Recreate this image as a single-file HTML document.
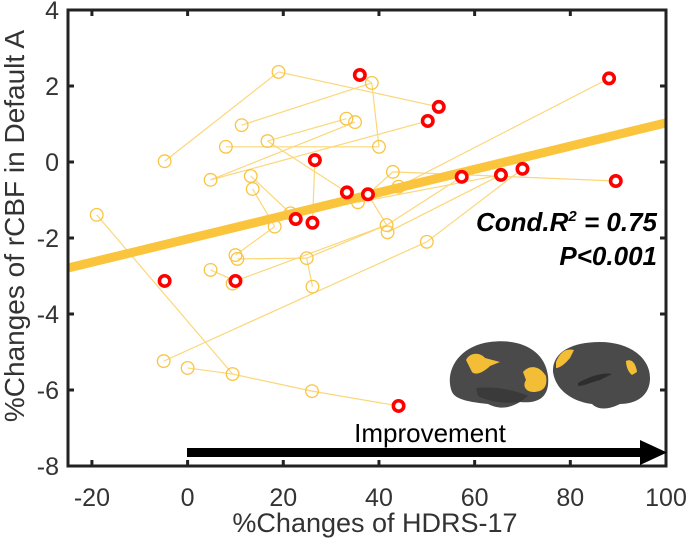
<!DOCTYPE html>
<html><head><meta charset="utf-8"><style>
body{margin:0;background:#fff;}
svg{display:block;font-family:"Liberation Sans",Arial,sans-serif;}
</style></head><body>
<svg id="chart" width="689" height="546" viewBox="0 0 689 546" xmlns="http://www.w3.org/2000/svg">
<g id="lines"></g>
<g id="fit"></g>
<g id="pts"></g>
<g id="axes"></g>
<text x="657" y="231" text-anchor="end" font-size="26" font-weight="bold" font-style="italic">Cond.R<tspan font-size="15" dy="-10">2</tspan><tspan dy="10"> = 0.75</tspan></text>
<text x="657" y="265" text-anchor="end" font-size="26" font-weight="bold" font-style="italic">P&lt;0.001</text>
<g>
<path d="M452,392 C444,372 458,346 490,342 C520,338 545,350 548,376 C550,396 540,404 520,402 C510,408 500,410 488,404 C470,402 456,400 452,392Z" fill="#4a4a4a"/>
<path d="M466,360 C470,352 480,352 485,358 L500,362 L490,366 C484,372 476,376 472,372Z" fill="#f3bd35"/>
<path d="M523,372 C530,364 540,366 546,376 C548,388 542,392 533,392 C526,392 522,386 526,380Z" fill="#f3bd35"/>
<path d="M476,388 C494,386 515,390 528,396 L520,402 C505,404 490,402 478,396Z" fill="#3a3a3a"/>
<path d="M553,372 C552,352 572,342 600,342 C630,342 650,358 650,378 C650,396 636,404 620,404 C608,410 598,410 592,404 C575,402 556,392 553,372Z" fill="#4a4a4a"/>
<path d="M556,362 C560,352 566,348 574,350 L570,358 C565,364 560,368 556,368Z" fill="#f3bd35"/>
<path d="M626,361 C632,358 636,364 637,372 L632,375 C628,372 626,366 626,361Z" fill="#f3bd35"/>
<path d="M578,383 C590,376 604,372 612,374 L600,380 C592,382 584,386 578,386Z" fill="#2e2e2e"/>
</g>
<text x="430" y="442" text-anchor="middle" font-size="26">Improvement</text>
<g>
<rect x="187" y="448" width="455" height="9" fill="#000"/>
<polygon points="640,440 667,452.5 640,465" fill="#000"/>
</g>
<text x="375" y="532" text-anchor="middle" font-size="27" fill="#333">%Changes of HDRS-17</text>
<text transform="translate(24,226) rotate(-90)" text-anchor="middle" font-size="28" fill="#333">%Changes of rCBF in Default A</text>
</svg>
<script>
const xTicks=[-20,0,20,40,60,80,100];
const yTicks=[4,2,0,-2,-4,-6,-8];
const baseX=[19,38.5,11.3,33.2,35,8,16.7,40,-4.8,4.8,13.2,13.6,42.9,44.1,35.6,-19,21.5,18.2,41.6,41.8,50,10,10.4,24.9,4.8,9.4,26.1,-5,0,9.4,26];
const baseY=[2.37,2.08,0.97,1.14,1.05,0.4,0.55,0.4,0.02,-0.47,-0.37,-0.71,-0.26,-0.65,-1.06,-1.39,-1.35,-1.7,-1.66,-1.85,-2.1,-2.45,-2.55,-2.53,-2.84,-3.2,-3.28,-5.24,-5.42,-5.58,-6.03];
const postX=[36,52.5,50.2,26.6,33.3,37.7,22.6,26.1,-4.8,10,44.1,88.1,57.3,65.5,70,89.5];
const postY=[2.29,1.45,1.08,0.05,-0.8,-0.85,-1.5,-1.6,-3.13,-3.13,-6.42,2.2,-0.39,-0.34,-0.18,-0.5];
const segFrom=['b0','b0','b2','b1','b5','b6','b9','b9','b6','b10','b11','b12','p5','p5','b13','p3','b16','b15','b28','b29','b30','b27','b20','b24','b22','b23','b26','p9','b19','b18','b17','p0','b14'];
const segTo=['b8','p1','b1','b7','b7','b3','b4','p2','p4','b16','b17','p15','b12','b18','p11','p7','p6','b29','b29','b30','p10','b20','p14','p9','b23','b18','b23','b18','p13','p12','b21','b1','p13'];
const fitX=[-25,100];
const fitY=[-2.79,1.03];
const NS='http://www.w3.org/2000/svg';
const X0=68,X1=666,Y0=10,Y1=466;
function sx(v){return X0+(v+25)/125*(X1-X0);}
function sy(v){return Y0+(4-v)/12*(Y1-Y0);}
function mk(t,a,p){const e=document.createElementNS(NS,t);for(const k in a)e.setAttribute(k,a[k]);p.appendChild(e);return e;}
function pt(id){const i=+id.slice(1);return id[0]==='b'?[baseX[i],baseY[i]]:[postX[i],postY[i]];}
const gl=document.getElementById('lines');
for(let i=0;i<segFrom.length;i++){const a=pt(segFrom[i]),b=pt(segTo[i]);
 const l=mk('line',{x1:sx(a[0]),y1:sy(a[1]),x2:sx(b[0]),y2:sy(b[1]),stroke:'#fbd77a','stroke-width':1.2},gl);
 
 }
const gp=document.getElementById('pts');
for(let i=0;i<baseX.length;i++){const c=mk('circle',{cx:sx(baseX[i]),cy:sy(baseY[i]),r:6.3,fill:'none',stroke:'#f9c441','stroke-width':1.3},gp);
 
 }
const gf=document.getElementById('fit');
const fl=mk('line',{x1:sx(fitX[0]),y1:sy(fitY[0]),x2:sx(fitX[1]),y2:sy(fitY[1]),stroke:'#fbc43d','stroke-width':9},gf);


for(let i=0;i<postX.length;i++){const c=mk('circle',{cx:sx(postX[i]),cy:sy(postY[i]),r:5.2,fill:'#fff',stroke:'#f00','stroke-width':3.6},gp);
 
 }
const ga=document.getElementById('axes');
mk('rect',{x:X0,y:Y0,width:X1-X0,height:Y1-Y0,fill:'none',stroke:'#222','stroke-width':3},ga);
xTicks.forEach(v=>{const x=sx(v);
 mk('line',{x1:x,y1:Y1,x2:x,y2:Y1-6,stroke:'#222','stroke-width':3},ga);
 mk('line',{x1:x,y1:Y0,x2:x,y2:Y0+6,stroke:'#222','stroke-width':3},ga);
 const t=mk('text',{x:x,y:Y1+40,'text-anchor':'middle','font-size':25,fill:'#333'},ga);t.textContent=v;
 
 });
yTicks.forEach(v=>{const y=sy(v);
 mk('line',{x1:X0,y1:y,x2:X0+6,y2:y,stroke:'#222','stroke-width':3},ga);
 mk('line',{x1:X1,y1:y,x2:X1-6,y2:y,stroke:'#222','stroke-width':3},ga);
 const t=mk('text',{x:X0-9,y:y+9,'text-anchor':'end','font-size':25,fill:'#333'},ga);t.textContent=v;
 
 });
</script>
</body></html>
